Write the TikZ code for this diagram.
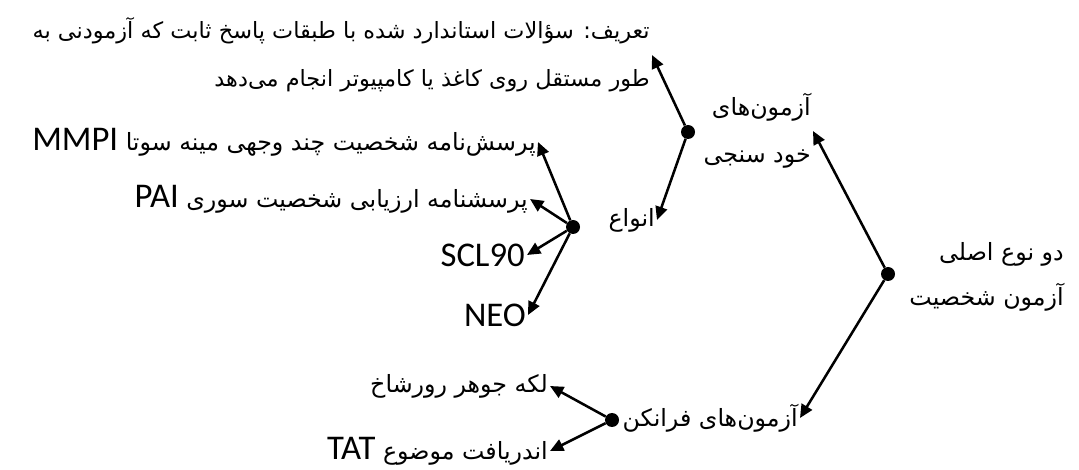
\documentclass[tikz,border=0pt]{standalone}
\usepackage{fontspec}
\setmainfont{Carlito}
\newfontfamily\fa[Script=Arabic]{DejaVu Sans}
\newfontfamily\lat{Carlito}
\TeXXeTstate=1
\usetikzlibrary{arrows.meta}
\tikzset{
  dot/.style={circle,fill=black,inner sep=0pt,minimum size=10.5pt},
  arr/.style={line width=1.9pt,-{Triangle[length=10pt,width=9pt]}},
  lbl/.style={inner sep=1.5pt,font=\fa\fontsize{17.8pt}{35pt}\selectfont},
  latn/.style={inner sep=1.5pt,font=\lat\fontsize{26pt}{30pt}\selectfont},
}
\newcommand{\ltrword}[1]{\beginL{\lat\fontsize{26pt}{30pt}\selectfont #1}\endL}
\begin{document}
\begin{tikzpicture}[x=0.75pt,y=-0.75pt]
\useasboundingbox (0,0) rectangle (1079,470);
% dots
\node[dot] (root) at (888,274) {};
\node[dot] (self) at (688,132) {};
\node[dot] (types) at (573,227) {};
\node[dot] (proj) at (612,420) {};
% labels
\node[lbl,align=right,anchor=east,font=\fa\fontsize{17.8pt}{34pt}\selectfont] (rootl) at (1066,277)
  {\beginR دو نوع اصلی\endR\\\beginR آزمون شخصیت\endR};
\node[lbl,align=right,anchor=east] (selfl) at (813,131)
  {\beginR آزمون‌های\endR\\\beginR خود سنجی\endR};
\node[lbl,align=right,anchor=east,font=\fa\fontsize{16.8pt}{36pt}\selectfont] (def) at (652,55)
  {\beginR تعریف: سؤالات استاندارد شده با طبقات پاسخ ثابت که آزمودنی به\endR\\\beginR طور مستقل روی کاغذ یا کامپیوتر انجام می‌دهد\endR};
\node[lbl,anchor=east] (kinds) at (657,220) {\beginR انواع\endR};
\node[lbl,anchor=east] (projl) at (800,418) {\beginR آزمون‌های فرانکن\endR};
\node[lbl,anchor=east] (mmpi) at (538,142) {\beginR پرسش‌نامه شخصیت چند وجهی مینه سوتا \ltrword{MMPI}\endR};
\node[lbl,anchor=east] (pai) at (530,199) {\beginR پرسشنامه ارزیابی شخصیت سوری \ltrword{PAI}\endR};
\node[latn,anchor=east] (scl) at (527,255) {SCL90};
\node[latn,anchor=east] (neo) at (528,315) {NEO};
\node[lbl,anchor=east] (ror) at (550,386) {\beginR لکه جوهر رورشاخ\endR};
\node[lbl,anchor=east] (tat) at (550,451) {\beginR اندریافت موضوع \ltrword{TAT}\endR};
% connectors
\draw[arr] (root) -- (selfl.east);
\draw[arr] (root) -- (projl.east);
\draw[arr] (self) -- (def.east);
\draw[arr] (self) -- (kinds.east);
\draw[arr] (types) -- (mmpi.east);
\draw[arr] (types) -- (pai.east);
\draw[arr] (types) -- (scl.east);
\draw[arr] (types) -- (neo.east);
\draw[arr] (proj) -- (ror.east);
\draw[arr] (proj) -- (tat.east);
\end{tikzpicture}
\end{document}
